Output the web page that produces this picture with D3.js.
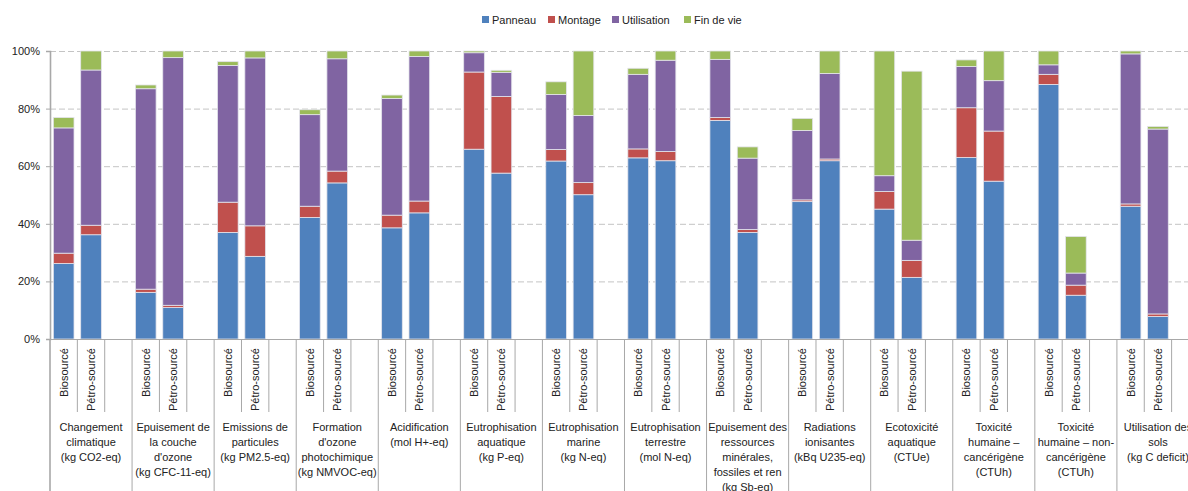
<!DOCTYPE html>
<html><head><meta charset="utf-8">
<script src="https://cdn.jsdelivr.net/npm/d3@7"></script>
<style>
html,body{margin:0;padding:0;background:#fff;overflow:hidden}
svg{display:block;font-family:"Liberation Sans",Arial,sans-serif}
</style></head>
<body>
<svg id="c" width="1188" height="491"></svg>
<script>
// ---- data ----
const groups = [
  ["Changement","climatique","(kg CO2-eq)"],
  ["Epuisement de","la couche","d'ozone","(kg CFC-11-eq)"],
  ["Emissions de","particules","(kg PM2.5-eq)"],
  ["Formation","d'ozone","photochimique","(kg NMVOC-eq)"],
  ["Acidification","(mol H+-eq)"],
  ["Eutrophisation","aquatique","(kg P-eq)"],
  ["Eutrophisation","marine","(kg N-eq)"],
  ["Eutrophisation","terrestre","(mol N-eq)"],
  ["Epuisement des","ressources","minérales,","fossiles et ren","(kg Sb-eq)"],
  ["Radiations","ionisantes","(kBq U235-eq)"],
  ["Ecotoxicité","aquatique","(CTUe)"],
  ["Toxicité","humaine –","cancérigène","(CTUh)"],
  ["Toxicité","humaine – non-","cancérigène","(CTUh)"],
  ["Utilisation des","sols","(kg C deficit)"]
];
const variants = ["Biosourcé","Pétro-sourcé"];
const seriesNames = ["Panneau","Montage","Utilisation","Fin de vie"];
const colors = ["#4F81BD","#C0504D","#8064A2","#9BBB59"];
// segment sizes in % (Biosourcé / Pétro-sourcé) per group
const panneauBio   = [26.2,16.2,37.0,42.2,38.6,65.9,61.8,62.9,75.9,47.7,45.1,63.0,88.4,46.1];
const panneauPetro = [36.2,10.9,28.7,54.2,43.8,57.6,50.1,61.9,37.0,61.9,21.4,54.8,15.2,7.8];
const montageBio   = [3.6,1.1,10.5,3.9,4.4,26.8,4.0,3.1,1.0,0.6,6.1,17.3,3.5,0.8];
const montagePetro = [3.3,0.8,10.6,4.1,4.1,26.6,4.2,3.2,1.0,0.6,5.9,17.4,3.5,0.9];
const utilBio      = [43.5,69.6,47.5,31.8,40.5,6.7,19.1,25.9,20.2,24.1,5.5,14.3,3.3,52.1];
const utilPetro    = [53.9,86.0,58.3,39.0,50.2,8.4,23.3,31.7,24.8,29.7,7.0,17.5,4.2,64.2];
const finBio       = [3.6,1.3,1.3,1.7,1.2,0.6,4.4,2.1,2.9,4.2,43.3,2.3,4.8,1.0];
const finPetro     = [6.6,2.3,2.4,2.7,1.9,0.7,22.4,3.2,3.9,7.8,58.7,10.3,12.7,0.9];
const yTicks = [0,20,40,60,80,100];

// ---- build table ----
const bioVals = [panneauBio, montageBio, utilBio, finBio];
const petroVals = [panneauPetro, montagePetro, utilPetro, finPetro];
const rows = [];
groups.forEach((g,i)=>{
  variants.forEach((v,j)=>{
    const src = j===0?bioVals:petroVals;
    const r = {group:i, variant:v};
    seriesNames.forEach((s,k)=>r[s]=src[k][i]);
    rows.push(r);
  });
});
const stacked = d3.stack().keys(seriesNames)(rows);

// ---- layout ----
const svg = d3.select("#c");
const x0 = 50, gw = 82.07, y0 = 339, y1 = 51;
const xg = d3.scaleBand().domain(d3.range(groups.length)).range([x0, x0+gw*groups.length]).paddingInner(0).paddingOuter(0);
const xs = d3.scaleBand().domain(["Biosourcé","Pétro-sourcé","_"]).range([0, xg.bandwidth()]).padding(0);
const y = d3.scaleLinear().domain([0,100]).range([y0,y1]);
const barW = xs.bandwidth()*0.755;

// gridlines
svg.append("g").selectAll("line").data(yTicks.filter(t=>t>0)).join("line")
  .attr("x1",x0).attr("x2",1188).attr("y1",d=>y(d)+0.5).attr("y2",d=>y(d)+0.5)
  .attr("stroke","#c4c4c4").attr("stroke-width",1).attr("stroke-dasharray","6,3");

// bars
const gBars = svg.append("g");
stacked.forEach((layer,k)=>{
  gBars.append("g").attr("fill",colors[k]).selectAll("rect").data(layer).join("rect")
    .attr("x",d=>xg(d.data.group)+xs(d.data.variant)+(xs.bandwidth()-barW)/2)
    .attr("width",barW)
    .attr("y",d=>y(d[1]))
    .attr("height",d=>Math.max(0,y(d[0])-y(d[1])))
    .attr("stroke","#e4e4ec").attr("stroke-width",0.8);
});

// y axis
const yAxis = d3.axisLeft(y).tickValues(yTicks).tickFormat(d=>d+"%").tickSize(4).tickPadding(6);
const ga = svg.append("g").attr("transform",`translate(${x0},0)`).call(yAxis);
ga.select(".domain").attr("stroke","#a8a8a8").attr("stroke-width",1.6);
ga.selectAll(".tick line").attr("stroke","#a8a8a8");
ga.selectAll(".tick text").attr("font-size",11).attr("fill","#222").attr("font-family","Liberation Sans, Arial, sans-serif");

// x axis base line
svg.append("line").attr("x1",x0).attr("x2",1188).attr("y1",y0+0.5).attr("y2",y0+0.5)
  .attr("stroke","#a8a8a8").attr("stroke-width",1.2);

// slot ticks (short) and group separators (long)
const slotLines = [];
groups.forEach((g,i)=>{
  ["Pétro-sourcé","_"].forEach(s=>slotLines.push(xg(i)+xs(s)));
});
svg.append("g").selectAll("line").data(slotLines).join("line")
  .attr("x1",d=>d).attr("x2",d=>d).attr("y1",y0).attr("y2",412)
  .attr("stroke","#a8a8a8").attr("stroke-width",1);
svg.append("g").selectAll("line").data(d3.range(groups.length+1)).join("line")
  .attr("x1",d=>x0+d*gw).attr("x2",d=>x0+d*gw).attr("y1",y0).attr("y2",491)
  .attr("stroke","#a8a8a8").attr("stroke-width",d=>d===0?1.6:1);

// rotated variant labels
const vl = svg.append("g").attr("font-size",11).attr("fill","#222");
groups.forEach((g,i)=>{
  variants.forEach(v=>{
    const cx = xg(i)+xs(v)+xs.bandwidth()/2;
    vl.append("text").attr("transform",`translate(${cx+4},348) rotate(-90)`)
      .attr("text-anchor","end").text(v);
  });
});

// group labels
const gl = svg.append("g").attr("font-size",11).attr("fill","#222").attr("text-anchor","middle");
groups.forEach((lines,i)=>{
  const cx = xg(i)+xg.bandwidth()/2;
  const t = gl.append("text");
  lines.forEach((ln,k)=>t.append("tspan").attr("x",cx).attr("y",431+k*15).text(ln));
});

// legend
const legX = [482,548,612,684];
const lg = svg.append("g").attr("font-size",11).attr("fill","#222");
seriesNames.forEach((s,k)=>{
  lg.append("rect").attr("x",legX[k]).attr("y",16).attr("width",7).attr("height",7).attr("fill",colors[k]);
  lg.append("text").attr("x",legX[k]+10).attr("y",24).text(s);
});
</script>
</body></html>
